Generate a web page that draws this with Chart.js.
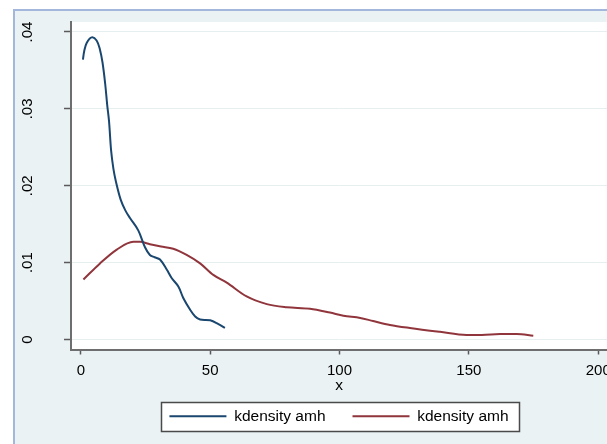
<!DOCTYPE html>
<html>
<head>
<meta charset="utf-8">
<script src="https://cdn.jsdelivr.net/npm/chart.js@4.4.1/dist/chart.umd.min.js"></script>
<style>
  html, body { margin: 0; padding: 0; background: #ffffff; overflow: hidden; }
  canvas { display: block; }
</style>
</head>
<body>
<canvas id="c" width="607" height="444"></canvas>
<script>
// ---- data ----
const seriesLabels = ['kdensity amh', 'kdensity amh'];
const blueX = [0.8, 1.3, 2.3, 4.2, 6.1, 7.4, 8.4, 9.4, 10.2, 10.9, 11.7, 12.6, 13.6, 15.4, 17.2, 19.0, 22.2, 24.8, 26.7, 28.5, 30.6, 33.2, 35.1, 37.7, 39.6, 42.2, 44.2, 46.1, 50.0, 53.2, 55.7];
const blueY = [0.0364, 0.0375, 0.0386, 0.0393, 0.0389, 0.0377, 0.0360, 0.0333, 0.0305, 0.0284, 0.0246, 0.0222, 0.0205, 0.0182, 0.0168, 0.0158, 0.0142, 0.0120, 0.0110, 0.0107, 0.0104, 0.0091, 0.0080, 0.0069, 0.0054, 0.0039, 0.0030, 0.0026, 0.0025, 0.0020, 0.0015];
const redX = [1.0, 7.4, 13.9, 20.3, 22.9, 26.7, 31.0, 35.7, 40.9, 46.1, 51.2, 56.4, 64.1, 71.9, 79.6, 88.6, 96.3, 101.5, 108, 113, 119.5, 127.2, 138.8, 149.1, 155, 162.1, 168.5, 174.9];
const redY = [0.0078, 0.0099, 0.0117, 0.0127, 0.0127, 0.0124, 0.0121, 0.0118, 0.0110, 0.0099, 0.0084, 0.0074, 0.0056, 0.0046, 0.0042, 0.0040, 0.0035, 0.0031, 0.0028, 0.0024, 0.0019, 0.0015, 0.0010, 0.0006, 0.0006, 0.0007, 0.0007, 0.0005];
const xTicks = [0, 50, 100, 150, 200];
const xTickLabels = ['0', '50', '100', '150', '200'];
const yTicks = [0, 0.01, 0.02, 0.03, 0.04];
const yTickLabels = ['0', '.01', '.02', '.03', '.04'];
const xTitle = 'x';

const FONT = "'Liberation Sans', Arial, Helvetica, sans-serif";

const toPoints = (xs, ys) => xs.map((x, i) => ({ x: x, y: ys[i] }));

const bgPlugin = {
  id: 'stataBg',
  beforeDraw(chart) {
    const { ctx, width, height, chartArea } = chart;
    ctx.save();
    ctx.fillStyle = '#ffffff';
    ctx.fillRect(0, 0, width, height);
    ctx.fillStyle = '#a3b6db';
    ctx.fillRect(13, 9, width - 13, height - 9);
    ctx.fillStyle = '#eaf2f3';
    ctx.fillRect(15, 11, width - 15, height - 11);
    ctx.fillStyle = '#ffffff';
    ctx.fillRect(chartArea.left, chartArea.top, chartArea.right - chartArea.left, chartArea.bottom - chartArea.top);
    // legend frame
    const lg = chart.legend;
    if (lg && lg.legendHitBoxes && lg.legendHitBoxes.length) {
      const hb = lg.legendHitBoxes;
      let l = Infinity, r = -Infinity, t = Infinity, b = -Infinity;
      hb.forEach(h => { l = Math.min(l, h.left); r = Math.max(r, h.left + h.width); t = Math.min(t, h.top); b = Math.max(b, h.top + h.height); });
      const L = Math.round(l - 8) + 0.5, R = Math.round(r + 10) + 0.5, T = Math.round(t - 7) + 0.5, B = Math.round(b + 7) + 0.5;
      ctx.fillStyle = '#ffffff';
      ctx.fillRect(L, T, R - L, B - T);
      ctx.strokeStyle = '#4a4a4a';
      ctx.lineWidth = 1.5;
      ctx.strokeRect(L, T, R - L, B - T);
    }
    ctx.restore();
  }
};

new Chart(document.getElementById('c'), {
  type: 'line',
  data: {
    datasets: [
      {
        label: seriesLabels[0],
        data: toPoints(blueX, blueY),
        borderColor: '#1a476f',
        backgroundColor: '#1a476f',
        borderWidth: 2,
        pointRadius: 0,
        tension: 0.35,
        fill: false
      },
      {
        label: seriesLabels[1],
        data: toPoints(redX, redY),
        borderColor: '#90353b',
        backgroundColor: '#90353b',
        borderWidth: 2,
        pointRadius: 0,
        cubicInterpolationMode: 'monotone',
        fill: false
      }
    ]
  },
  options: {
    responsive: false,
    animation: false,
    devicePixelRatio: 1,
    layout: { padding: { left: 0, right: 0, top: 22, bottom: 10 } },
    plugins: {
      tooltip: { enabled: false },
      legend: {
        position: 'bottom',
        fullSize: false,
        labels: {
          boxWidth: 57,
          boxHeight: 0,
          padding: 27,
          color: '#000000',
          font: { family: FONT, size: 15.5 }
        }
      }
    },
    scales: {
      x: {
        type: 'linear',
        min: -3.8,
        max: 203.4,
        afterBuildTicks: (s) => { s.ticks = xTicks.map(v => ({ value: v })); },
        afterFit: (s) => { s.height = 32; s.paddingLeft = 0; s.paddingRight = 0; },
        ticks: {
          autoSkip: false,
          maxRotation: 0,
          minRotation: 0,
          padding: 7,
          color: '#000000',
          font: { family: FONT, size: 15 },
          callback: (v) => { const i = xTicks.indexOf(v); return i >= 0 ? xTickLabels[i] : ''; }
        },
        grid: {
          color: 'rgba(0,0,0,0)',
          tickColor: '#5a5a5a',
          tickLength: 5,
          tickWidth: 1.5,
          drawTicks: true
        },
        border: { display: true, color: '#6e6e6e', width: 2 },
        title: {
          display: true,
          text: xTitle,
          color: '#000000',
          font: { family: FONT, size: 15.5 },
          padding: { top: 0, bottom: -14 }
        }
      },
      y: {
        type: 'linear',
        min: -0.0013,
        max: 0.0413,
        afterBuildTicks: (s) => { s.ticks = yTicks.map(v => ({ value: v })); },
        afterFit: (s) => { s.width = 71; s.paddingTop = 0; s.paddingBottom = 0; },
        ticks: {
          autoSkip: false,
          minRotation: 90,
          maxRotation: 90,
          crossAlign: 'center',
          padding: 26,
          color: '#000000',
          font: { family: FONT, size: 15 },
          callback: (v) => { const i = yTicks.findIndex(t => Math.abs(t - v) < 1e-9); return i >= 0 ? yTickLabels[i] : ''; }
        },
        grid: {
          color: '#e6eef0',
          lineWidth: 1,
          tickColor: '#5a5a5a',
          tickLength: 7,
          tickWidth: 1.5,
          drawTicks: true
        },
        border: { display: true, color: '#6e6e6e', width: 2 }
      }
    }
  },
  plugins: [bgPlugin]
});
</script>
</body>
</html>
